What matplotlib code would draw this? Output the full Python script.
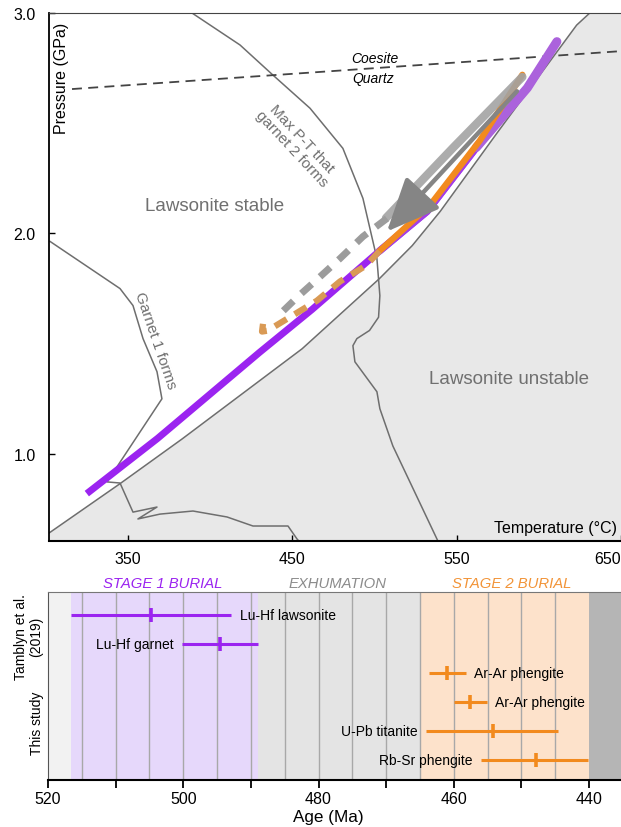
#P-T path diagram + geochronology summary
import matplotlib
matplotlib.use('Agg')
import matplotlib.pyplot as plt
import matplotlib.transforms as mtransforms
from matplotlib.patches import FancyArrowPatch

plt.rcParams['font.family'] = ['Liberation Sans', 'DejaVu Sans']

#----- P-T diagram (T in degC, P in GPa) -----
#lawsonite-out reaction
law_T = [302, 345, 383, 456, 503, 523, 540, 575, 623, 631]
law_P = [0.641, 0.864, 1.068, 1.477, 1.795, 1.945, 2.10, 2.46, 2.945, 3.0]

#garnet 1 forms
g1_T = [302.6, 345.2, 353.1, 359.2, 367.7, 370.7, 337.3, 345.2, 353.1, 367.7, 356.1,
        369.5, 389.6, 410.3, 426.1, 447.4, 452.9, 454]
g1_P = [1.964, 1.75, 1.673, 1.523, 1.373, 1.25, 0.873, 0.868, 0.736, 0.759, 0.705,
        0.727, 0.741, 0.714, 0.673, 0.673, 0.614, 0.605]

#max P-T that garnet 2 forms
g2_T = [389, 418.2, 438.3, 460.8, 480.8, 493, 501.5, 503.3, 502.5, 497, 489.3, 486.9,
        488.1, 501.5, 503.3, 511.2, 538.6]
g2_P = [3.0, 2.855, 2.718, 2.568, 2.386, 2.159, 1.886, 1.718, 1.62, 1.56, 1.523, 1.491,
        1.418, 1.282, 1.205, 1.036, 0.605]

#coesite / quartz
coe_T = [316, 650]
coe_P = [2.655, 2.827]

#stage 1 burial (purple)
pur_T = [325, 368, 430, 462, 503, 532, 562, 593, 611]
pur_P = [0.82, 1.07, 1.46, 1.655, 1.92, 2.10, 2.39, 2.66, 2.87]

#stage 2 burial (orange), solid then dashed
or_T = [590, 564, 534, 503]
or_P = [2.72, 2.42, 2.13, 1.92]
ord_T = [503, 495, 479, 465, 450, 435, 431.6, 432.2]
ord_P = [1.92, 1.855, 1.782, 1.695, 1.627, 1.559, 1.555, 1.59]

#exhumation (grey)
gr_T = [590, 548, 507]
gr_P = [2.71, 2.39, 2.07]
grd_T = [507.6, 493, 479, 465.6, 453.5, 440.5]
grd_P = [2.068, 1.986, 1.886, 1.795, 1.714, 1.62]
arr_T = [586.7, 507.6]
arr_P = [2.645, 2.009]

#----- age summary -----
span_edges = [520, 516.6, 489, 465, 440, 435.27]
span_colors = ['#f2f2f2', '#e6d8fb', '#e4e4e4', '#fde2cb', '#b5b5b5']
grid_ages = [515, 510, 505, 500, 495, 490, 485, 480, 475, 470, 465, 460, 455, 450, 445]

labels = ['Lu-Hf lawsonite', 'Lu-Hf garnet', 'Ar-Ar phengite', 'Ar-Ar phengite',
          'U-Pb titanite', 'Rb-Sr phengite']
ages = [504.7, 494.6, 461.0, 457.6, 454.2, 447.8]
old_end = [516.6, 500.2, 463.6, 460.0, 464.1, 456.0]
young_end = [492.9, 488.9, 458.2, 455.1, 444.6, 440.1]
rows = [6, 5, 4, 3, 2, 1]
label_side = ['right', 'left', 'right', 'right', 'left', 'left']

purple = '#9b24f0'
orange = '#f28a1e'
lgrey = '#6e6e6e'

fig = plt.figure(figsize=(6.21, 8.28), dpi=100)

#top panel
ax = fig.add_axes([49/621, 1-542/828, 572/621, 528/828])
ax.set_xlim(302, 650)
ax.set_ylim(0.605, 3.0)

ax.fill(law_T + [650, 650, 302], law_P + [3.0, 0.605, 0.605], color='#e8e8e8', lw=0, zorder=0)
ax.plot(law_T, law_P, color=lgrey, lw=1.1, zorder=1)
ax.plot(g1_T, g1_P, color=lgrey, lw=1.1, zorder=1)
ax.plot(g2_T, g2_P, color=lgrey, lw=1.1, zorder=1)
ax.plot(coe_T, coe_P, color='#444444', lw=1.3, dashes=(5.5, 3.5), zorder=1)

ax.plot(pur_T, pur_P, color=purple, lw=5, solid_capstyle='butt', zorder=3)
ax.plot(pur_T[4:], pur_P[4:], color='#a23ee8', lw=5.3, solid_capstyle='round', zorder=3)
ax.plot(pur_T[6:], pur_P[6:], color='#ab62dc', lw=6.5, solid_capstyle='round', zorder=3)

ax.plot(or_T, or_P, color=orange, lw=4.5, solid_capstyle='round', zorder=4)
ax.plot(ord_T, ord_P, color='#d99a55', lw=4.5, dashes=(2.2, 1.5), zorder=4)

ax.plot(gr_T, gr_P, color='#a3a3a3', lw=6, alpha=0.9, solid_capstyle='round', zorder=5)
ax.plot(grd_T, grd_P, color='#9c9c9c', lw=5, dashes=(2.0, 1.6), zorder=5)
arrow = FancyArrowPatch((arr_T[0], arr_P[0]), (arr_T[1], arr_P[1]),
                        arrowstyle='-|>,head_length=33,head_width=14.5', mutation_scale=1,
                        lw=3.2, color='#858585', shrinkA=0, shrinkB=0, zorder=6)
ax.add_patch(arrow)

ax.text(403, 2.127, 'Lawsonite stable', fontsize=13.5, color='#707070', ha='center', va='center')
ax.text(582, 1.341, 'Lawsonite unstable', fontsize=13.5, color='#707070', ha='center', va='center')
ax.text(452.5, 2.41, 'Max P-T that\ngarnet 2 forms', fontsize=11, color='#707070',
        ha='center', va='center', rotation=-47, linespacing=1.0, rotation_mode='anchor')
ax.text(366.5, 1.518, 'Garnet 1 forms', fontsize=11, color='#707070',
        ha='center', va='center', rotation=-71, rotation_mode='anchor')
ax.text(500.3, 2.795, 'Coesite', fontsize=10, style='italic', ha='center', va='center')
ax.text(499.1, 2.705, 'Quartz', fontsize=10, style='italic', ha='center', va='center')

ax.text(0.0227, 0.879, 'Pressure (GPa)', transform=ax.transAxes, rotation=90,
        fontsize=11.5, ha='center', va='center')
ax.text(0.993, 0.0265, 'Temperature (\u00b0C)', transform=ax.transAxes,
        fontsize=11.5, ha='right', va='center')

ax.set_xticks([350, 450, 550, 650])
ax.set_yticks([1.0, 2.0, 3.0])
ax.set_yticklabels(['1.0', '2.0', '3.0'])
ax.tick_params(direction='in', length=4, width=1, labelsize=11.5)
ax.tick_params(axis='x', pad=7)
ax.tick_params(axis='y', pad=9.5)
ax.get_xticklabels()[-1].set_horizontalalignment('right')
ax.spines['right'].set_visible(False)
ax.spines['left'].set_linewidth(1.3)
ax.spines['bottom'].set_linewidth(1.5)
ax.spines['top'].set_color('#444444')

#bottom panel
bx = fig.add_axes([48/621, 1-781/828, 573/621, 188/828])
bx.set_xlim(520, 435.27)
bx.set_ylim(0.31, 6.79)
for a, b, c in zip(span_edges[:-1], span_edges[1:], span_colors):
    bx.axvspan(a, b, color=c, lw=0, zorder=0)
for g in grid_ages:
    bx.axvline(g, color='#a8a8a8', lw=1, zorder=1)

for i in range(len(labels)):
    c = purple if i < 2 else orange
    bx.errorbar(ages[i], rows[i], xerr=[[ages[i]-young_end[i]], [old_end[i]-ages[i]]],
                fmt='|', ms=9.5, mew=2.6, color=c, elinewidth=2.2, capsize=0, zorder=3)
    if label_side[i] == 'right':
        bx.annotate(labels[i], xy=(young_end[i], rows[i]), xytext=(6, 0), textcoords='offset points',
                    ha='left', va='center', fontsize=10)
    else:
        bx.annotate(labels[i], xy=(old_end[i], rows[i]), xytext=(-6, 0), textcoords='offset points',
                    ha='right', va='center', fontsize=10)

trans = mtransforms.blended_transform_factory(bx.transData, bx.transAxes)
bx.text(503.1, 1.048, 'STAGE 1 BURIAL', transform=trans, ha='center', va='center',
        style='italic', fontsize=10.7, color=purple)
bx.text(477.2, 1.048, 'EXHUMATION', transform=trans, ha='center', va='center',
        style='italic', fontsize=10.7, color='#8c8c8c')
bx.text(451.4, 1.048, 'STAGE 2 BURIAL', transform=trans, ha='center', va='center',
        style='italic', fontsize=10.7, color='#f29438')

bx.text(-0.034, 0.766, 'Tamblyn et al.\n(2019)', transform=bx.transAxes, rotation=90,
        ha='center', va='center', fontsize=10, linespacing=1.15)
bx.text(-0.019, 0.309, 'This study', transform=bx.transAxes, rotation=90,
        ha='center', va='center', fontsize=10)

bx.set_xticks([520, 500, 480, 460, 440])
bx.set_xticks([510, 490, 470, 450], minor=True)
bx.set_yticks([])
bx.tick_params(axis='x', which='both', direction='out', length=6, width=1.3, labelsize=11.5, pad=2)
bx.spines['right'].set_visible(False)
bx.spines['bottom'].set_linewidth(1.5)
bx.spines['left'].set_color('#555555')
bx.spines['top'].set_color('#777777')
fig.text(0.528, 1-818/828, 'Age (Ma)', fontsize=12.3, ha='center', va='center')

fig.savefig('out.png', dpi=100)
